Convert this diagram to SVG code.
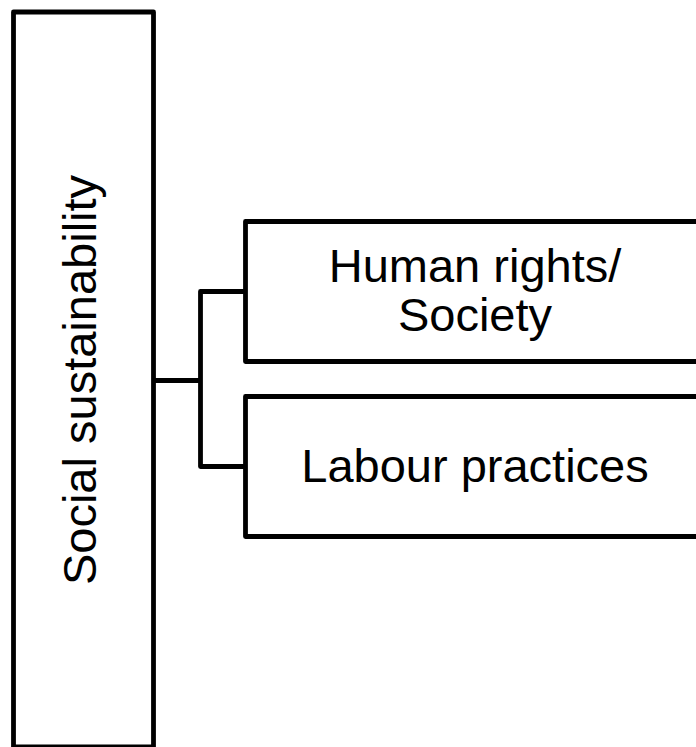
<svg xmlns="http://www.w3.org/2000/svg" width="696" height="747" viewBox="0 0 696 747">
  <style>
    .box { fill: #ffffff; stroke: #000000; stroke-width: 4.8; stroke-linejoin: round; }
    .wire { fill: none; stroke: #000000; stroke-width: 4.8; stroke-linejoin: round; stroke-linecap: butt; }
    .label { font-family: "Liberation Sans", Arial, sans-serif; font-size: 47px; fill: #000000; text-anchor: middle; }
  </style>
  <rect width="696" height="747" fill="#ffffff"/>

  <g id="connectors">
    <path class="wire" d="M153.5,380.5 H200.5"/>
    <path class="wire" d="M245.5,291.5 H200.5 V466.5 H245.5"/>
  </g>

  <g id="social-sustainability">
    <rect class="box" x="13.5" y="12" width="140" height="735"/>
    <text class="label" transform="translate(95.5,380) rotate(-90)">Social sustainability</text>
  </g>

  <g id="human-rights-society">
    <rect class="box" x="245.5" y="221.5" width="460" height="140"/>
    <text class="label" x="475" y="282">Human rights/</text>
    <text class="label" x="475" y="330.5">Society</text>
  </g>

  <g id="labour-practices">
    <rect class="box" x="245.5" y="396.5" width="460" height="140"/>
    <text class="label" x="475" y="481.5">Labour practices</text>
  </g>
</svg>
